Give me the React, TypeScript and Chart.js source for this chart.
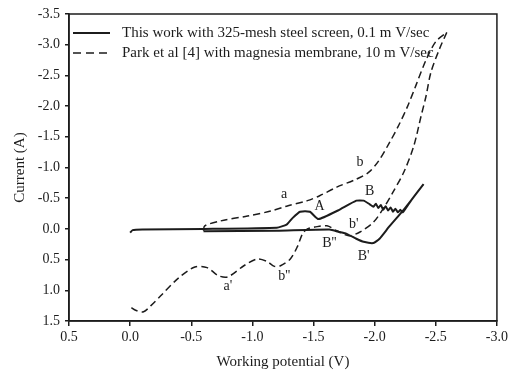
import { useEffect, useRef } from "react";
import { Chart, registerables } from "chart.js";
Chart.register(...registerables);

// Solid curve: this work (325-mesh steel screen, 0.1 mV/sec) — potential (V), current (A)
const solidV = [0.0, -0.02, -0.1, -0.6, -1.2, -1.28, -1.33, -1.39, -1.47, -1.54, -1.7, -1.85, -1.91, -1.96, -1.99, -2.01, -2.03, -2.05, -2.07, -2.09, -2.11, -2.13, -2.15, -2.17, -2.19, -2.21, -2.23, -2.3, -2.4, -2.3, -2.22, -2.12, -2.04, -1.99, -1.91, -1.85, -1.77, -1.71, -1.63, -1.2, -0.6];
const solidI = [0.06, 0.02, 0.01, 0.0, -0.02, -0.07, -0.18, -0.28, -0.28, -0.16, -0.3, -0.46, -0.46, -0.4, -0.36, -0.41, -0.34, -0.39, -0.31, -0.37, -0.3, -0.35, -0.28, -0.33, -0.27, -0.31, -0.27, -0.47, -0.73, -0.47, -0.27, -0.04, 0.16, 0.23, 0.21, 0.16, 0.08, 0.05, 0.01, 0.03, 0.04];

// Dashed curve: Park et al. [4] forward sweep (a -> b)
const parkFwdV = [-0.6, -0.61, -0.74, -0.96, -1.15, -1.28, -1.45, -1.55, -1.69, -1.85, -1.95, -2.03, -2.12, -2.2, -2.27, -2.34, -2.42, -2.5, -2.59];
const parkFwdI = [0.03, -0.05, -0.13, -0.21, -0.29, -0.37, -0.46, -0.54, -0.68, -0.81, -0.92, -1.1, -1.4, -1.7, -2.0, -2.35, -2.75, -3.05, -3.2];

// Dashed curve: Park et al. [4] reverse sweep (b' -> b'' -> a')
const parkRevV = [-2.59, -2.53, -2.46, -2.42, -2.38, -2.32, -2.24, -2.15, -2.07, -1.99, -1.88, -1.79, -1.69, -1.61, -1.51, -1.45, -1.41, -1.37, -1.31, -1.23, -1.18, -1.12, -1.04, -0.93, -0.8, -0.72, -0.63, -0.53, -0.39, -0.25, -0.17, -0.11, -0.05, 0.0];
const parkRevI = [-3.2, -2.93, -2.55, -2.16, -1.84, -1.35, -0.93, -0.6, -0.33, -0.11, 0.05, 0.11, 0.03, -0.05, -0.03, 0.0, 0.08, 0.28, 0.49, 0.6, 0.61, 0.53, 0.49, 0.6, 0.78, 0.76, 0.63, 0.62, 0.81, 1.09, 1.25, 1.35, 1.33, 1.27];

const legendLabels = [
  "This work with 325-mesh steel screen, 0.1 m V/sec",
  "Park et al [4] with magnesia membrane, 10 m V/sec",
];

const peakLabels = ["a", "b", "A", "B", "b'", "B''", "B'", "b''", "a'"];
const peakLabelV = [-1.26, -1.88, -1.55, -1.96, -1.83, -1.63, -1.91, -1.26, -0.8];
const peakLabelI = [-0.57, -1.09, -0.36, -0.62, -0.08, 0.24, 0.44, 0.78, 0.94];

const FONT = "'Liberation Serif', 'Times New Roman', serif";
const INK = "#1c1c1c";

const toPts = (v: number[], i: number[]) => v.map((x, k) => ({ x, y: i[k] }));

export default function App() {
  const ref = useRef<HTMLCanvasElement>(null);
  useEffect(() => {
    document.body.style.margin = "0";
    const overlay = {
      id: "overlay",
      afterDraw(chart: any) {
        const { ctx, chartArea: a, scales } = chart;
        ctx.save();
        ctx.strokeStyle = INK;
        ctx.lineWidth = 1.5;
        ctx.strokeRect(a.left, a.top, a.right - a.left, a.bottom - a.top);
        // legend
        ctx.font = `15px ${FONT}`;
        ctx.fillStyle = INK;
        ctx.textBaseline = "middle";
        ctx.textAlign = "left";
        const rows = [33, 53];
        legendLabels.forEach((t, k) => {
          ctx.beginPath();
          ctx.lineWidth = k === 0 ? 2 : 1.5;
          ctx.setLineDash(k === 0 ? [] : [8, 5]);
          ctx.moveTo(a.left + 4, rows[k]);
          ctx.lineTo(a.left + 41, rows[k]);
          ctx.stroke();
          ctx.setLineDash([]);
          ctx.fillText(t, a.left + 53, rows[k]);
        });
        // peak labels
        ctx.font = `14px ${FONT}`;
        ctx.textAlign = "center";
        peakLabels.forEach((t, k) => {
          ctx.fillText(t, scales.x.getPixelForValue(peakLabelV[k]), scales.y.getPixelForValue(peakLabelI[k]));
        });
        ctx.restore();
      },
    };
    const chart = new Chart(ref.current!, {
      type: "line",
      data: {
        datasets: [
          {
            label: legendLabels[0],
            data: toPts(solidV, solidI),
            borderColor: INK,
            borderWidth: 2,
            pointRadius: 0,
            tension: 0.15,
          },
          {
            label: legendLabels[1],
            data: toPts(parkFwdV, parkFwdI),
            borderColor: INK,
            borderWidth: 1.5,
            borderDash: [7, 4],
            pointRadius: 0,
            tension: 0.3,
          },
          {
            label: legendLabels[1] + " (reverse)",
            data: toPts(parkRevV, parkRevI),
            borderColor: INK,
            borderWidth: 1.5,
            borderDash: [7, 4],
            pointRadius: 0,
            tension: 0.3,
          },
        ],
      },
      options: {
        animation: false,
        responsive: true,
        maintainAspectRatio: false,
        layout: { padding: { top: 14, right: 11, left: 0, bottom: 0 } },
        plugins: { legend: { display: false }, tooltip: { enabled: false } },
        scales: {
          x: {
            type: "linear",
            min: -3,
            max: 0.5,
            reverse: true,
            afterFit: (s: any) => { s.height = 53; },
            ticks: {
              stepSize: 0.5,
              color: INK,
              padding: 3,
              font: { family: FONT, size: 14 },
              callback: (v: any) => Number(v).toFixed(1),
            },
            grid: { drawOnChartArea: false, drawTicks: true, tickLength: 5, color: INK, lineWidth: 1.5 },
            border: { display: true, color: INK, width: 1.5 },
            title: { display: true, text: "Working potential (V)", color: INK, font: { family: FONT, size: 15 }, padding: { top: 0, bottom: 3 } },
          },
          y: {
            type: "linear",
            min: -3.5,
            max: 1.5,
            reverse: true,
            afterFit: (s: any) => { s.width = 69; },
            ticks: {
              stepSize: 0.5,
              color: INK,
              padding: 5,
              font: { family: FONT, size: 14 },
              callback: (v: any) => Number(v).toFixed(1),
            },
            grid: { drawOnChartArea: false, drawTicks: true, tickLength: 4, color: INK, lineWidth: 1.5 },
            border: { display: true, color: INK, width: 1.5 },
            title: { display: true, text: "Current (A)", color: INK, font: { family: FONT, size: 15 }, padding: { top: 11, bottom: 0 } },
          },
        },
      },
      plugins: [overlay],
    });
    return () => chart.destroy();
  }, []);
  return (
    <div style={{ position: "relative", width: 511, height: 374 }}>
      <canvas ref={ref} />
    </div>
  );
}
